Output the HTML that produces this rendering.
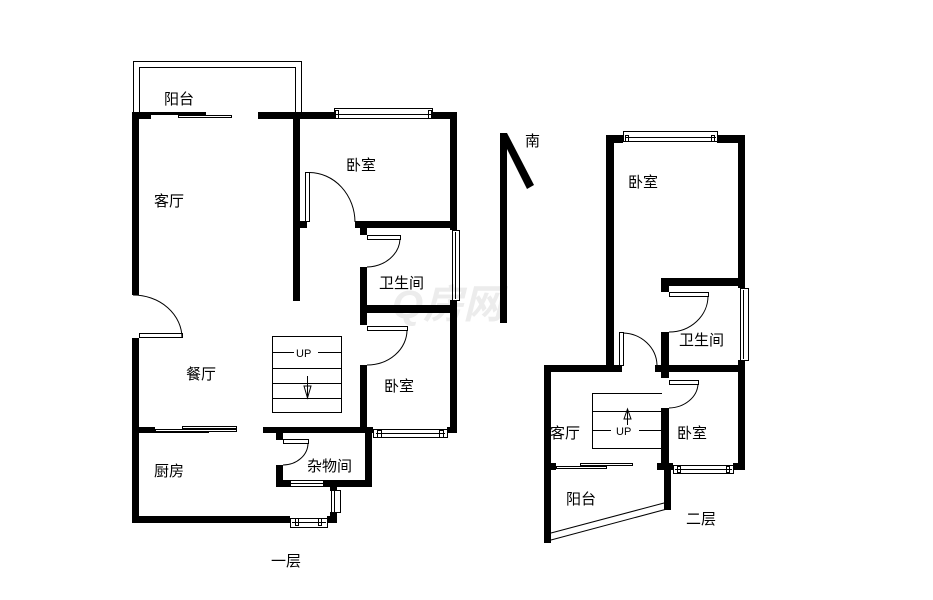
<!DOCTYPE html>
<html><head><meta charset="utf-8"><style>
html,body{margin:0;padding:0;background:#fff;width:933px;height:600px;overflow:hidden}
text{font-family:"Liberation Sans","Noto Sans CJK SC",sans-serif;font-size:15px;fill:#000}
</style></head><body>
<svg width="933" height="600" viewBox="0 0 933 600" xmlns="http://www.w3.org/2000/svg">
<text x="392" y="318" style="font-size:40px;font-style:italic;font-weight:bold;fill:#ececec">Q房网</text>
<g fill="#000">
<rect x="132" y="112" width="19" height="7"/>
<rect x="258" y="112" width="76" height="7"/>
<rect x="432" y="112" width="25" height="7"/>
<rect x="132" y="112" width="7" height="183"/>
<rect x="132" y="338" width="7" height="185"/>
<rect x="293" y="112" width="7" height="189"/>
<rect x="293" y="221" width="14" height="7"/>
<rect x="450" y="112" width="7" height="118"/>
<rect x="450" y="300" width="7" height="133"/>
<rect x="355" y="221" width="102" height="7"/>
<rect x="360" y="221" width="7" height="14"/>
<rect x="360" y="267" width="7" height="58"/>
<rect x="360" y="305" width="97" height="8"/>
<rect x="360" y="365" width="7" height="68"/>
<rect x="263" y="427" width="110" height="6"/>
<rect x="367" y="427" width="6" height="6"/>
<rect x="447" y="427" width="10" height="6"/>
<rect x="139" y="427" width="16" height="6"/>
<rect x="276" y="427" width="7" height="13"/>
<rect x="276" y="465" width="7" height="22"/>
<rect x="365" y="427" width="7" height="60"/>
<rect x="276" y="480" width="14" height="7"/>
<rect x="323" y="480" width="49" height="7"/>
<rect x="330" y="487" width="7" height="4"/>
<rect x="330" y="512" width="7" height="11"/>
<rect x="132" y="516" width="158" height="7"/>
<rect x="327" y="516" width="10" height="7"/>
<rect x="500" y="133" width="7" height="190"/>
<polygon points="500,135 507,133 534,185 527,189"/>
<rect x="606" y="135" width="8" height="237"/>
<rect x="606" y="135" width="17" height="8"/>
<rect x="717" y="135" width="28" height="8"/>
<rect x="738" y="135" width="7" height="153"/>
<rect x="738" y="360" width="7" height="110"/>
<rect x="661" y="278" width="84" height="8"/>
<rect x="661" y="278" width="8" height="14"/>
<rect x="661" y="332" width="8" height="40"/>
<rect x="655" y="365" width="90" height="7"/>
<rect x="544" y="365" width="78" height="7"/>
<rect x="661" y="365" width="8" height="13"/>
<rect x="661" y="408" width="8" height="62"/>
<rect x="661" y="463" width="12" height="7"/>
<rect x="733" y="463" width="12" height="7"/>
<rect x="544" y="365" width="7" height="178"/>
<rect x="544" y="463" width="12" height="7"/>
<rect x="657" y="463" width="12" height="7"/>
<rect x="664" y="463" width="7" height="47"/>
</g>
<g fill="none" stroke="#000" stroke-width="1">
<path d="M133.5,112 V61.5 H301.5 V112"/>
<path d="M139.5,112 V67.5 H295.5 V112"/>
<rect x="151.5" y="112.5" width="54" height="2" fill="#000"/>
<rect x="178.5" y="115.5" width="53" height="2"/>
<rect x="334.5" y="108.5" width="98" height="10"/>
<line x1="336" y1="114.5" x2="431" y2="114.5"/>
<rect x="335.5" y="110.5" width="3" height="8"/>
<rect x="428.5" y="110.5" width="3" height="8"/>
<rect x="305.5" y="172.5" width="4" height="49"/>
<path d="M309.5,172.5 A46,50 0 0 1 355,222"/>
<rect x="367.5" y="235.5" width="33" height="4"/>
<path d="M400,239 A34,29 0 0 1 367,267"/>
<rect x="452.5" y="230.5" width="7" height="70"/>
<line x1="455.5" y1="232" x2="455.5" y2="299"/>
<rect x="367.5" y="326.5" width="40" height="4"/>
<path d="M407,330 A40,35 0 0 1 367,365"/>
<path d="M133,295 A49,43 0 0 1 182,338"/>
<rect x="139.5" y="333.5" width="43" height="4"/>
<rect x="272.5" y="336.5" width="69" height="76"/>
<line x1="272" y1="352.5" x2="294" y2="352.5"/>
<line x1="318" y1="352.5" x2="342" y2="352.5"/>
<line x1="272" y1="368.5" x2="342" y2="368.5"/>
<line x1="272" y1="383.5" x2="342" y2="383.5"/>
<line x1="272" y1="398.5" x2="342" y2="398.5"/>
<line x1="307.5" y1="376" x2="307.5" y2="397"/>
<path d="M304,386 L307.5,398 L311,386 Z"/>
<rect x="155.5" y="429.5" width="81" height="2"/>
<rect x="182.5" y="426.5" width="54" height="2"/>
<line x1="155" y1="432.5" x2="209" y2="432.5"/>
<rect x="373.5" y="429.5" width="74" height="8"/>
<line x1="376" y1="433.5" x2="445" y2="433.5"/>
<rect x="377.5" y="430.5" width="4" height="7"/>
<rect x="439.5" y="430.5" width="4" height="7"/>
<rect x="283.5" y="439.5" width="25" height="4"/>
<path d="M308,443 A25,22 0 0 1 283,465"/>
<rect x="290.5" y="480.5" width="33" height="6"/>
<line x1="290" y1="483.5" x2="323" y2="483.5"/>
<rect x="331.5" y="490.5" width="9" height="22"/>
<line x1="334.5" y1="491" x2="334.5" y2="512"/>
<rect x="290.5" y="518.5" width="37" height="9"/>
<line x1="292" y1="522.5" x2="326" y2="522.5"/>
<rect x="295.5" y="518.5" width="3" height="7"/>
<rect x="318.5" y="518.5" width="3" height="7"/>
<rect x="623.5" y="131.5" width="94" height="10"/>
<line x1="625" y1="137.5" x2="716" y2="137.5"/>
<rect x="625.5" y="135.5" width="3" height="6"/>
<rect x="711.5" y="135.5" width="3" height="6"/>
<rect x="669.5" y="292.5" width="39" height="4"/>
<path d="M708,296 A39,36 0 0 1 669,332"/>
<rect x="740.5" y="288.5" width="8" height="72"/>
<line x1="743.5" y1="290" x2="743.5" y2="359"/>
<rect x="619.5" y="332.5" width="4" height="33"/>
<path d="M623,333 A35,33 0 0 1 657,365"/>
<rect x="669.5" y="380.5" width="29" height="4"/>
<path d="M698,384 A30,25 0 0 1 669,408"/>
<path d="M662,393.5 H592.5 V448.5 H662"/>
<line x1="592" y1="411.5" x2="662" y2="411.5"/>
<line x1="592" y1="430.5" x2="611" y2="430.5"/>
<line x1="639" y1="430.5" x2="662" y2="430.5"/>
<line x1="627.5" y1="410" x2="627.5" y2="425"/>
<path d="M624,419 L627.5,409 L631,419 Z"/>
<rect x="556.5" y="466.5" width="50" height="2"/>
<rect x="580.5" y="463.5" width="52" height="2"/>
<rect x="673.5" y="465.5" width="60" height="8"/>
<line x1="675" y1="469.5" x2="732" y2="469.5"/>
<rect x="677.5" y="466.5" width="3" height="6"/>
<rect x="726.5" y="466.5" width="3" height="6"/>
<line x1="551" y1="533" x2="664" y2="503"/>
<line x1="551" y1="540" x2="667" y2="509"/>
</g>
<text x="164" y="104">阳台</text>
<text x="346" y="170">卧室</text>
<text x="154" y="206">客厅</text>
<text x="379" y="288">卫生间</text>
<text x="186" y="379">餐厅</text>
<text x="384" y="391">卧室</text>
<text x="154" y="476">厨房</text>
<text x="307" y="471">杂物间</text>
<text x="271" y="566">一层</text>
<text style="font-size:11px" x="296" y="357">UP</text>
<text x="525" y="146">南</text>
<text x="628" y="187">卧室</text>
<text x="679" y="345">卫生间</text>
<text x="550" y="438">客厅</text>
<text x="677" y="438">卧室</text>
<text x="566" y="504">阳台</text>
<text x="686" y="524">二层</text>
<text style="font-size:11px" x="616" y="435">UP</text>
</svg>
</body></html>
